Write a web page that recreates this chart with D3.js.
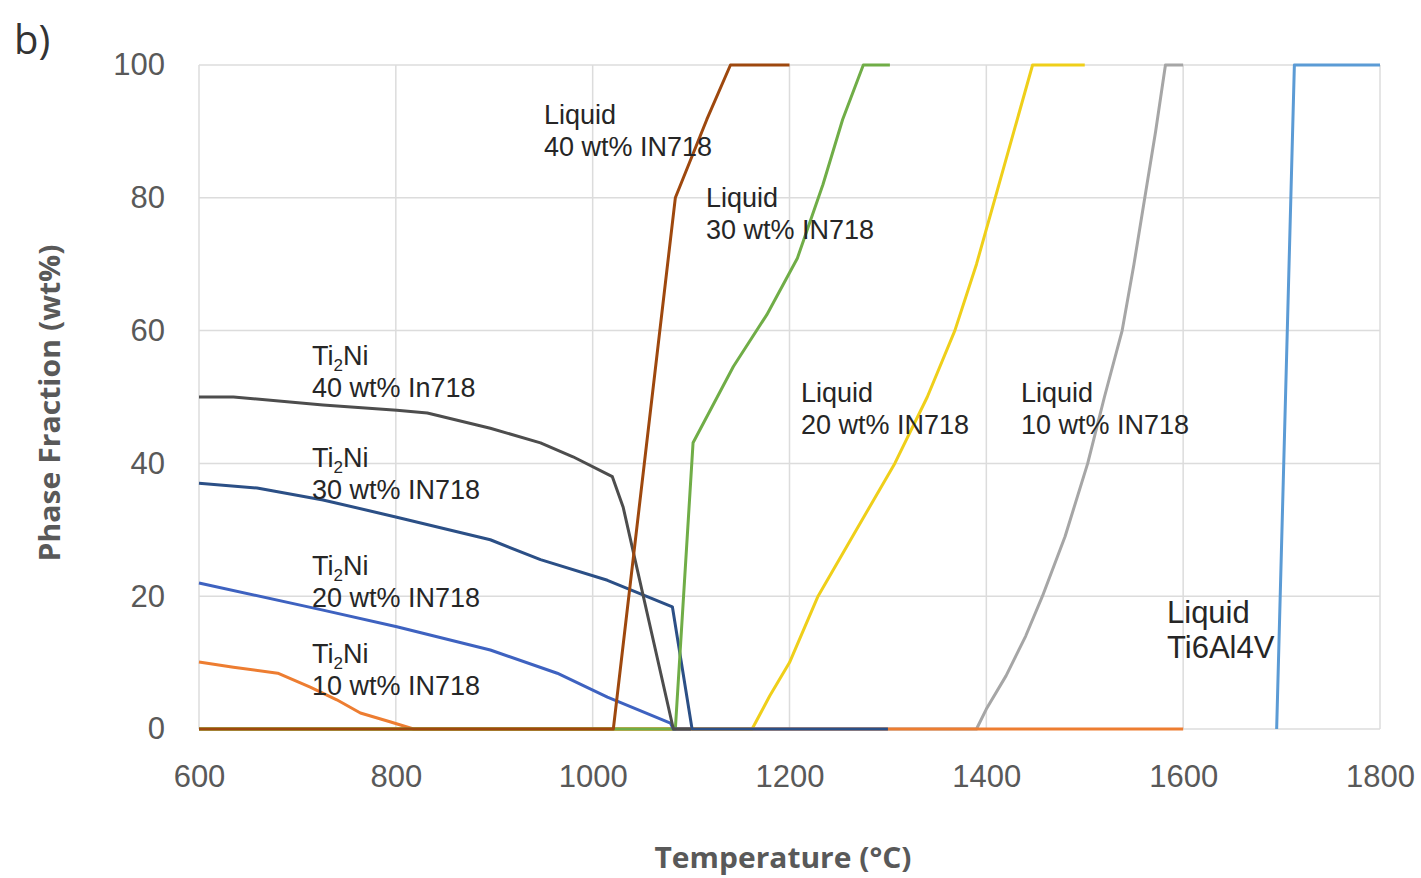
<!DOCTYPE html>
<html>
<head>
<meta charset="utf-8">
<script src="https://cdn.jsdelivr.net/npm/d3@7"></script>
<style>
  html, body { margin: 0; padding: 0; background: #ffffff; }
  svg { display: block; }
</style>
</head>
<body>
<svg id="chart" width="1421" height="878"></svg>
<script>
// ---- Data (Temperature °C, Phase fraction wt%) ----
const xTicks = [600, 800, 1000, 1200, 1400, 1600, 1800];
const yTicks = [0, 20, 40, 60, 80, 100];

const liquid10 = [[600,0],[1390,0],[1400,3],[1420,8],[1440,14],[1457,20],[1480,29],[1503,40],[1520,50],[1538,60],[1550,70],[1561,80],[1572,90],[1582,100],[1600,100]];
const liquid20 = [[600,0],[1162,0],[1180,5],[1200,10],[1229,20],[1268,30],[1307,40],[1340,50],[1368,60],[1390,70],[1409,80],[1428,90],[1447,100],[1500,100]];
const ti2ni10 = [[600,10.1],[635,9.3],[680,8.4],[713,6.3],[740,4.4],[764,2.4],[794,1.1],[818,0],[1600,0]];
const ti2ni30 = [[600,37.0],[659,36.3],[726,34.5],[801,31.9],[896,28.5],[947,25.5],[1015,22.4],[1081,18.4],[1101,0],[1300,0]];
const liquid30 = [[600,0],[1084,0],[1102,43.1],[1143,54.6],[1177,62.4],[1208,70.9],[1234,82],[1254,91.8],[1275,100],[1302,100]];
const ti2ni20 = [[600,22.0],[726,17.9],[801,15.4],[896,11.9],[964,8.4],[1015,4.8],[1079,0.9],[1082,0],[1100,0]];
const ti2ni40 = [[600,50.0],[635,50.0],[726,48.8],[801,48.0],[832,47.6],[896,45.3],[947,43.1],[980,41.0],[1020,38.0],[1031,33.4],[1082,0],[1100,0]];
const liquid40 = [[600,0],[1021,0],[1084,80],[1116,91.8],[1140,100],[1200,100]];
const liquidTi64 = [[1695,0],[1713,100],[1800,100]];

const seriesList = [
  { data: liquid10,   color: "#a6a6a6" },
  { data: liquid20,   color: "#efcf1a" },
  { data: ti2ni10,    color: "#ed7d31" },
  { data: ti2ni30,    color: "#2b4f86" },
  { data: liquid30,   color: "#70ad47" },
  { data: ti2ni20,    color: "#3e62c0" },
  { data: ti2ni40,    color: "#4d4d4d" },
  { data: liquid40,   color: "#9e480e" },
  { data: liquidTi64, color: "#5b9bd5" }
];

const labelLines = [
  { x: 544,  y: 124, lines: ["Liquid", "40 wt% IN718"], size: 27, gap: 32 },
  { x: 706,  y: 207, lines: ["Liquid", "30 wt% IN718"], size: 27, gap: 32 },
  { x: 801,  y: 402, lines: ["Liquid", "20 wt% IN718"], size: 27, gap: 32 },
  { x: 1021, y: 402, lines: ["Liquid", "10 wt% IN718"], size: 27, gap: 32 },
  { x: 1167, y: 623, lines: ["Liquid", "Ti6Al4V"], size: 31, gap: 35 }
];
const ti2niLabels = [
  { x: 312, y: 365, line2: "40 wt% In718" },
  { x: 312, y: 467, line2: "30 wt% IN718" },
  { x: 312, y: 575, line2: "20 wt% IN718" },
  { x: 312, y: 663, line2: "10 wt% IN718" }
];

// ---- Layout ----
const svg = d3.select("#chart");
const pLeft = 199, pRight = 1380, pTop = 65, pBottom = 729;

const x = d3.scaleLinear().domain([600, 1800]).range([pLeft, pRight]);
const y = d3.scaleLinear().domain([0, 100]).range([pBottom, pTop]);

// Gridlines
svg.append("g").selectAll("line").data(xTicks).join("line")
  .attr("x1", d => x(d)).attr("x2", d => x(d))
  .attr("y1", pTop).attr("y2", pBottom)
  .attr("stroke", "#dcdcdc").attr("stroke-width", 1.5);
svg.append("g").selectAll("line").data(yTicks).join("line")
  .attr("x1", pLeft).attr("x2", pRight)
  .attr("y1", d => y(d)).attr("y2", d => y(d))
  .attr("stroke", "#dcdcdc").attr("stroke-width", 1.5);

// Axes (labels only)
const tickFont = "'Liberation Sans', Arial, sans-serif";
const xAxis = svg.append("g").attr("transform", `translate(0,${pBottom})`)
  .call(d3.axisBottom(x).tickValues(xTicks).tickSize(0).tickPadding(36).tickFormat(d3.format("d")));
xAxis.select(".domain").remove();
xAxis.selectAll("text").attr("font-family", tickFont).attr("font-size", 31).attr("fill", "#595959");

const yAxis = svg.append("g").attr("transform", `translate(${pLeft},0)`)
  .call(d3.axisLeft(y).tickValues(yTicks).tickSize(0).tickPadding(34).tickFormat(d3.format("d")));
yAxis.select(".domain").remove();
yAxis.selectAll("text").attr("font-family", tickFont).attr("font-size", 31).attr("fill", "#595959");

// Lines
const line = d3.line().x(d => x(d[0])).y(d => y(d[1]));
svg.append("g").selectAll("path").data(seriesList).join("path")
  .attr("d", d => line(d.data))
  .attr("fill", "none")
  .attr("stroke", d => d.color)
  .attr("stroke-width", 3)
  .attr("stroke-linejoin", "round");

// Annotations
const annFont = "'Liberation Sans', Arial, sans-serif";
labelLines.forEach(l => {
  const t = svg.append("text").attr("font-family", annFont).attr("font-size", l.size).attr("fill", "#262626");
  l.lines.forEach((s, i) => {
    t.append("tspan").attr("x", l.x).attr("y", l.y + i * l.gap).text(s);
  });
});
ti2niLabels.forEach(l => {
  const t1 = svg.append("text").attr("font-family", annFont).attr("font-size", 27).attr("fill", "#262626")
    .attr("x", l.x).attr("y", l.y);
  t1.append("tspan").text("Ti");
  t1.append("tspan").attr("font-size", 17).attr("dy", 6).text("2");
  t1.append("tspan").attr("dy", -6).text("Ni");
  svg.append("text").attr("font-family", annFont).attr("font-size", 27).attr("fill", "#262626")
    .attr("x", l.x).attr("y", l.y + 32).text(l.line2);
});

// Axis titles
const titleFont = "'Open Sans', 'Noto Sans', sans-serif";
svg.append("text")
  .attr("transform", `translate(60,403) rotate(-90)`)
  .attr("text-anchor", "middle")
  .attr("font-family", titleFont).attr("font-weight", "bold").attr("font-size", 29)
  .attr("fill", "#595959")
  .attr("textLength", 317).attr("lengthAdjust", "spacingAndGlyphs")
  .text("Phase Fraction (wt%)");
svg.append("text")
  .attr("x", 783).attr("y", 868)
  .attr("text-anchor", "middle")
  .attr("font-family", titleFont).attr("font-weight", "bold").attr("font-size", 29)
  .attr("fill", "#595959")
  .attr("textLength", 257).attr("lengthAdjust", "spacingAndGlyphs")
  .text("Temperature (°C)");

// Panel label
svg.append("text").attr("x", 14).attr("y", 54)
  .attr("font-family", "'Open Sans', sans-serif").attr("font-size", 40).attr("fill", "#333333")
  .text("b)");
</script>
</body>
</html>
